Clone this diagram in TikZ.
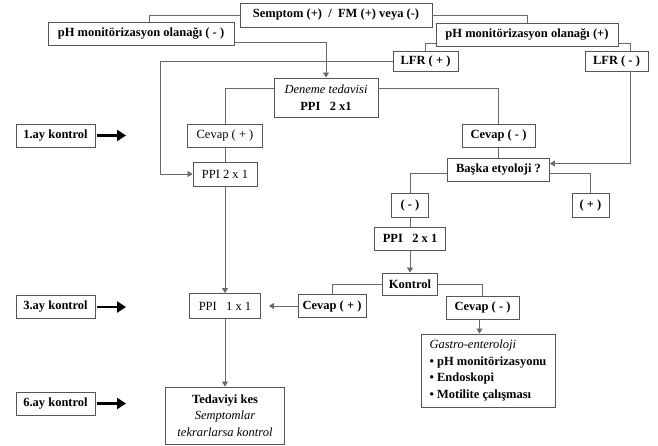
\documentclass[tikz,border=0pt]{standalone}
\usepackage{fontspec}
\setmainfont{Liberation Serif}
\usetikzlibrary{arrows.meta}
\definecolor{frame}{RGB}{85,85,85}
\definecolor{wire}{RGB}{105,105,105}

\begin{document}
\begin{tikzpicture}[x=1pt,y=-1pt,
  box/.style={draw=frame,line width=0.9pt,fill=white,inner sep=1pt,minimum height=23pt,
              font=\fontsize{12.5}{16.5}\selectfont\bfseries,align=center},
  thin/.style={box,font=\fontsize{12.5}{16.5}\selectfont},
  ar/.style={-{Triangle[length=5pt,width=6pt]},draw=wire,line width=0.8pt},
  ln/.style={draw=wire,line width=0.8pt},
  big/.style={-{Triangle[length=9pt,width=11pt]},line width=2.6pt}
]
\useasboundingbox (0,0) rectangle (658,445);

% top of the tree
\node[box,minimum width=192pt,minimum height=24pt] (sym) at (336,15) {Semptom (+)\ \ /\ \ FM (+) veya (-)};
\node[box,minimum width=186pt] (phn) at (141,33.5) {pH monitörizasyon olanağı ( - )};
\node[box,minimum width=182pt] (php) at (527,34.5) {pH monitörizasyon olanağı (+)};
\node[box,minimum width=65pt,minimum height=20pt] (lfrp) at (425.5,61) {LFR ( + )};
\node[box,minimum width=63pt,minimum height=20pt] (lfrn) at (616.5,61) {LFR ( - )};
\node[box,minimum width=104pt,minimum height=39pt] (den) at (326,97.5) {{\mdseries\itshape Deneme tedavisi}\\PPI\ \ \ 2 x1};

% left column
\node[thin,minimum width=75pt] (cvp1) at (225,135.5) {Cevap ( + )};
\node[thin,minimum width=64pt,minimum height=24pt] (ppa) at (225,174) {PPI 2 x 1};
\node[thin,minimum width=71pt,minimum height=25pt] (ppc) at (225,306) {PPI\ \ \ 1 x 1};
\node[box,minimum width=119pt,minimum height=57pt] (ted) at (225,415.5) {Tedaviyi kes\\{\mdseries\itshape Semptomlar}\\{\mdseries\itshape tekrarlarsa kontrol}};

% right branch
\node[box,minimum width=73pt] (cvn1) at (498.5,135.5) {Cevap ( - )};
\node[box,minimum width=102pt] (bas) at (498.5,169.5) {Başka etyoloji ?};
\node[box,minimum width=37pt,minimum height=24pt] (neg) at (410,205) {( - )};
\node[box,minimum width=37pt,minimum height=24pt] (pos) at (590.5,205) {( + )};
\node[box,minimum width=71pt] (ppb) at (410,238.5) {PPI\ \ \ 2 x 1};
\node[box,minimum width=55pt,minimum height=22pt] (kon) at (410,284) {Kontrol};
\node[box,minimum width=68pt] (cvp2) at (332,306) {Cevap ( + )};
\node[box,minimum width=73pt] (cvn2) at (482.5,307.5) {Cevap ( - )};
\node[box,minimum width=134pt,minimum height=73pt,align=left] (gas) at (488,370.5)
  {{\mdseries\itshape Gastro-enteroloji}\\• pH monitörizasyonu\\• Endoskopi\\• Motilite çalışması};

% month markers
\node[box,minimum width=79pt] (ay1) at (55.5,135.5) {1.ay kontrol};
\node[box,minimum width=79pt] (ay3) at (55.5,307) {3.ay kontrol};
\node[box,minimum width=79pt] (ay6) at (55.5,403.5) {6.ay kontrol};
\coordinate (t1) at (126,135.5);
\coordinate (t3) at (126,307);
\coordinate (t6) at (126,403.5);
\draw[big] ([xshift=2pt]ay1.east) -- (t1);
\draw[big] ([xshift=2pt]ay3.east) -- (t3);
\draw[big] ([xshift=2pt]ay6.east) -- (t6);

% connectors
\draw[ln] (sym.west) -| ([xshift=8pt]phn.north);
\draw[ln] (sym.east) -| (php.north);
\draw[ar] ([yshift=-9pt]phn.east) -| (den.north);
\draw[ln] ([yshift=-9pt]php.west) -| (lfrp.north);
\draw[ln] ([yshift=-9pt]php.east) -| ([xshift=14pt]lfrn.north);
\draw[ar] (lfrp.west) -| ([xshift=-32pt]ppa.west) -- (ppa.west);
\draw[ln] ([yshift=9pt]den.west) -| (cvp1.north);
\draw[ln] ([yshift=9pt]den.east) -| (cvn1.north);
\draw[ln] (cvp1) -- (ppa);
\draw[ln] (cvn1) -- (bas);
\draw[ar] ([xshift=14pt]lfrn.south) |- ([yshift=6pt]bas.east);
\draw[ln] ([yshift=-4pt]bas.west) -| (neg.north);
\draw[ln] ([yshift=-4pt]bas.east) -| (pos.north);
\draw[ln] (neg) -- (ppb);
\draw[ar] (ppb) -- (kon);
\draw[ln] (kon.west) -| (cvp2.north);
\draw[ln] (kon.east) -| (cvn2.north);
\draw[ar,shorten >=8pt] (cvp2.west) -- (cvp2.west -| ppc.east);
\draw[ar] ([xshift=-3pt]cvn2.south) -- ([xshift=-3pt]cvn2.south |- gas.north);
\draw[ar] (ppa) -- (ppc);
\draw[ar] (ppc) -- (ted);
\end{tikzpicture}
\end{document}
